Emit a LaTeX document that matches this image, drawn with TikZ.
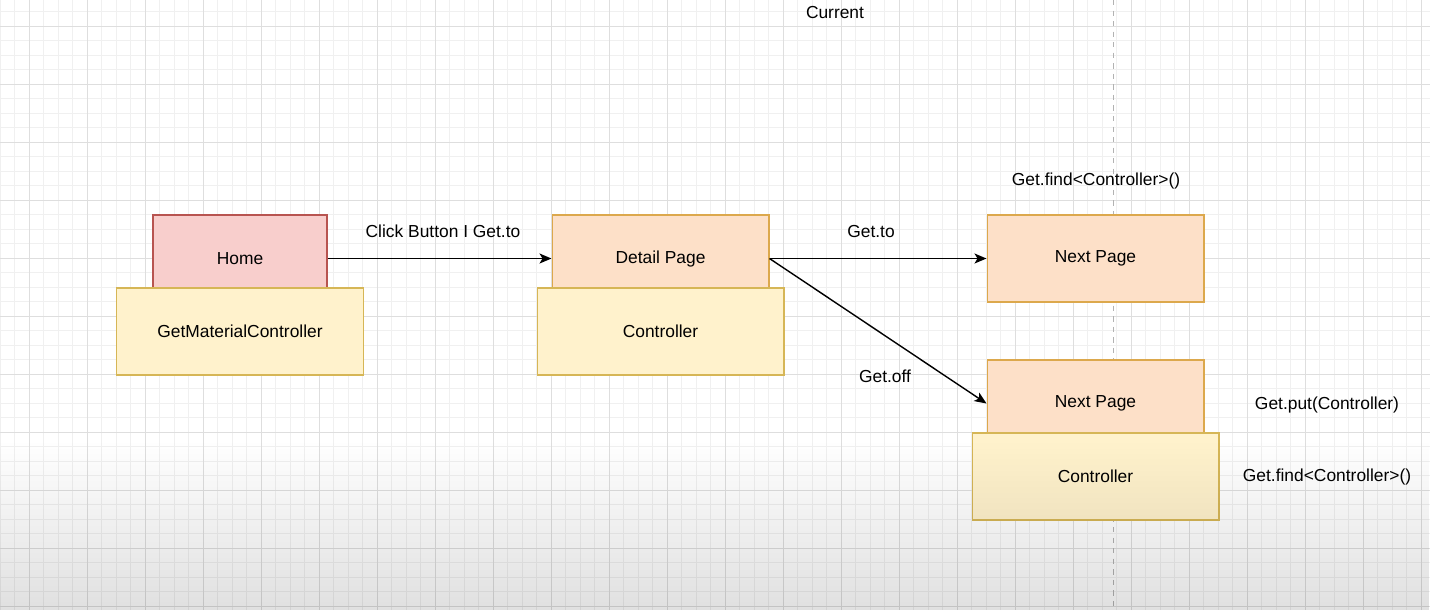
\documentclass[tikz,border=0pt]{standalone}
\usepackage{fontspec}
\setmainfont{Liberation Sans}
\usepackage{xcolor}
\usepackage{tikz}
\usetikzlibrary{arrows.meta, positioning, calc, fadings}

\definecolor{homefill}{HTML}{F8CECC}
\definecolor{homeline}{HTML}{B85450}
\definecolor{pagefill}{HTML}{FDE0C8}
\definecolor{pageline}{HTML}{DCA84C}
\definecolor{ctrlfill}{HTML}{FFF2CC}
\definecolor{ctrlline}{HTML}{D6B656}

\tikzfading[name=fadeup, top color=transparent!100, bottom color=transparent!0]

\begin{document}
\begin{tikzpicture}[x=0.02cm, y=-0.02cm,
    every node/.style={font=\fontsize{9.9}{12}\selectfont},
    minorline/.style={black!6, line width=0.3pt},
    majorline/.style={black!13, line width=0.4pt},
    pagebox/.style={draw=pageline, fill=pagefill, line width=0.6pt, minimum width=4.34cm, minimum height=1.74cm, inner sep=0pt},
    homebox/.style={pagebox, draw=homeline, fill=homefill, minimum width=3.48cm},
    ctrlbox/.style={draw=ctrlline, fill=ctrlfill, line width=0.6pt, minimum width=4.94cm, minimum height=1.74cm, inner sep=0pt},
    link/.style={line width=0.8pt, -{Stealth[length=0.24cm, width=0.2cm, inset=0.06cm]}}]
    \useasboundingbox (0,0) rectangle (1430,610);
    \fill[white] (0,0) rectangle (1430,610);
    % grid
    \foreach \i in {0,...,98} \draw[minorline] ({\i*14.5},0) -- ({\i*14.5},610);
    \foreach \i in {0,...,41} \draw[minorline] (0,{11.5+\i*14.5}) -- (1430,{11.5+\i*14.5});
    \foreach \i in {0,...,24} \draw[majorline] ({29+\i*58},0) -- ({29+\i*58},610);
    \foreach \i in {0,...,10} \draw[majorline] (0,{26+\i*58}) -- (1430,{26+\i*58});
    \draw[black!30, line width=0.5pt, dash pattern=on 3pt off 3pt] (1113,0) -- (1113,610);

    \node at (835,13) {Current};

    % pages first, controllers on top
    \node[homebox] (home) at (240,258.5) {Home};
    \node[ctrlbox] (homectrl) at (240,331.5) {GetMaterialController};
    \node[pagebox] (detail) at (660.5,258.5) {Detail Page};
    \node[ctrlbox] (detailctrl) at (660.5,331.5) {Controller};
    \node[pagebox] (nexta) at (1095.5,258.5) {Next Page};
    \node[pagebox] (nextb) at (1095.5,403.5) {Next Page};
    \node[ctrlbox] (nextctrl) at (1095.5,476.5) {Controller};

    \draw[link] (home.east) -- (detail.west);
    \draw[link] (detail.east) -- (nexta.west);
    \draw[link] (detail.east) -- (nextb.west);

    \node at (443,231) {Click Button I Get.to};
    \node at (871,231) {Get.to};
    \node at (885,376) {Get.off};
    \node at (1096,181) {Get.find<Controller>()};
    \node at (1327,405) {Get.put(Controller)};
    \node at (1327,477) {Get.find<Controller>()};

    % shadow at the bottom
    \fill[black, fill opacity=0.12, path fading=fadeup] (0,440) rectangle (1430,610);
\end{tikzpicture}
\end{document}
